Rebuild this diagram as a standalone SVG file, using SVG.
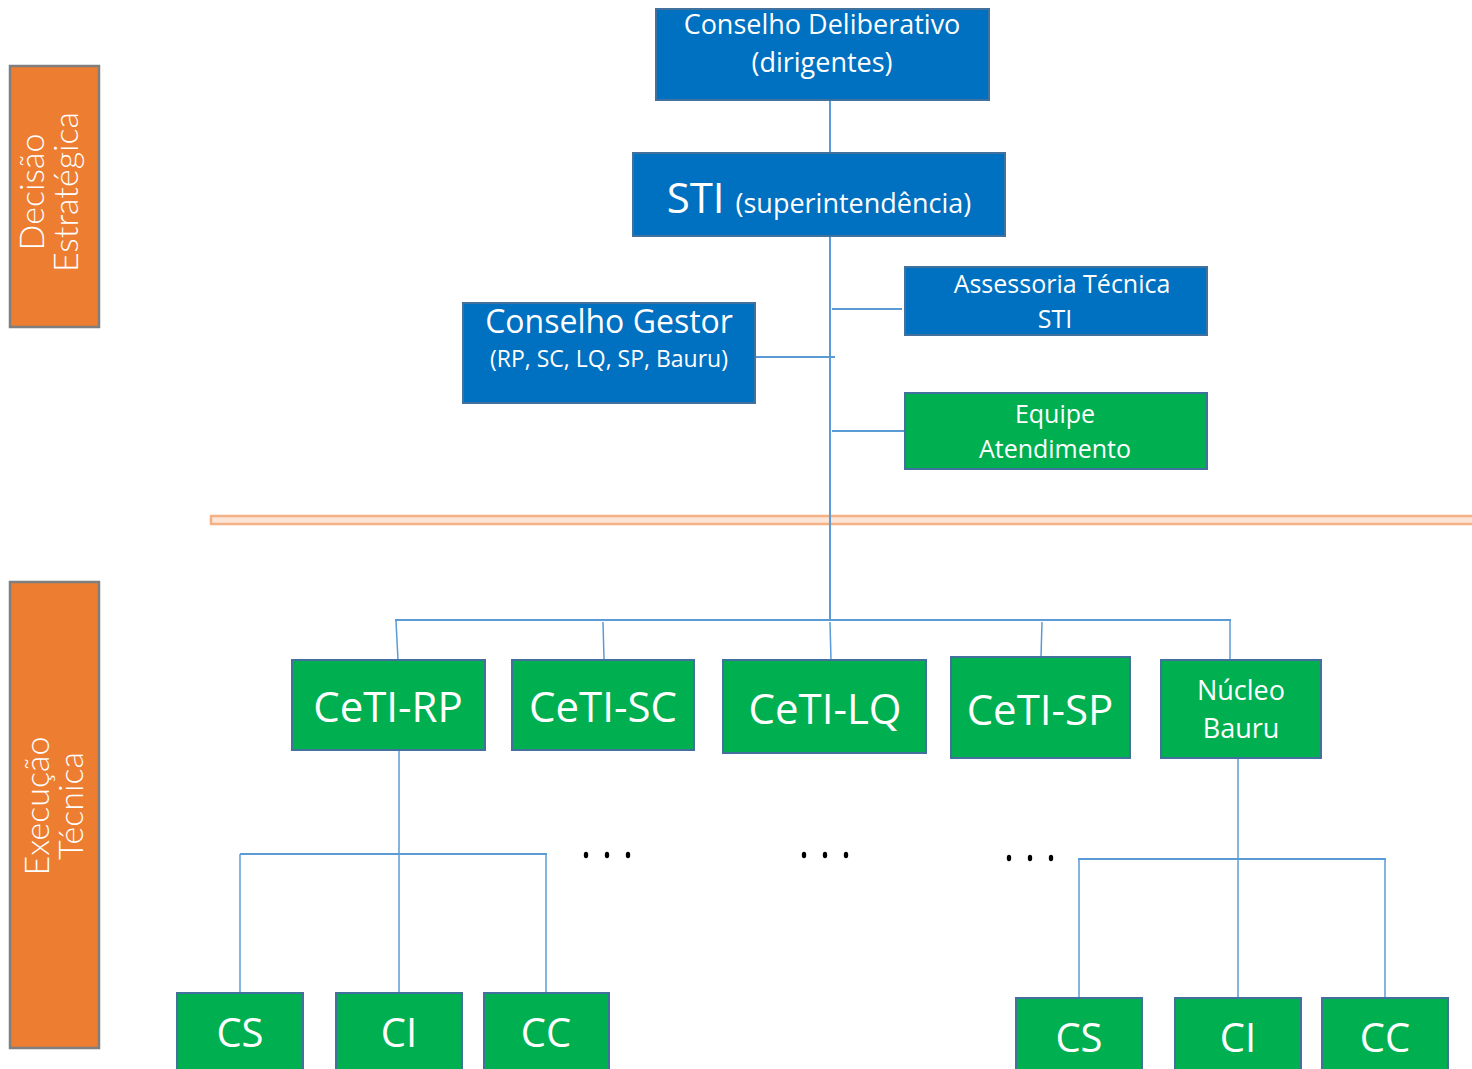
<svg xmlns="http://www.w3.org/2000/svg" width="1472" height="1069" viewBox="0 0 1472 1069">
<style>
.side{fill:#ED7D31;stroke:#7F7F7F;stroke-width:2.5}
.sidet{fill:#fff;font-family:Lato,"DejaVu Sans",sans-serif;font-weight:300;font-size:34px}
.blue{fill:#0070C0;stroke:#41719C;stroke-width:2}
.green{fill:#00B050;stroke:#41719C;stroke-width:2}
.t{fill:#fff;font-family:"Open Sans","Noto Sans",sans-serif;text-anchor:middle}
.c{stroke:#5B9BD5;stroke-width:2;fill:none}
.c1{stroke:#5B9BD5;stroke-width:1.5;fill:none}
.dots{fill:#000}
</style>
<rect x="0" y="0" width="1472" height="1069" fill="#fff"/>
<g id="band-decisao">
<rect class="side" x="10" y="66" width="89" height="261"/>
<text class="sidet" transform="translate(44,192) rotate(-90)" text-anchor="middle">Decisão</text>
<text class="sidet" transform="translate(78,192) rotate(-90)" text-anchor="middle">Estratégica</text>
</g>
<g id="band-execucao">
<rect class="side" x="10" y="582" width="89" height="466"/>
<text class="sidet" transform="translate(49,806) rotate(-90)" text-anchor="middle">Execução</text>
<text class="sidet" transform="translate(83,806) rotate(-90)" text-anchor="middle">Técnica</text>
</g>
<g id="divider">
<rect x="211" y="516" width="1265" height="8" fill="#FBE5D6" stroke="#F4B183" stroke-width="2.5"/>
</g>
<g id="connectors">
<line class="c" x1="830" y1="100" x2="830" y2="160"/>
<line class="c" x1="830" y1="236" x2="830" y2="620"/>
<line class="c" x1="832" y1="309" x2="902" y2="309"/>
<line class="c" x1="748" y1="357" x2="835" y2="357"/>
<line class="c" x1="832" y1="431" x2="905" y2="431"/>
<line class="c" x1="395" y1="620" x2="1231" y2="620" stroke-width="2.5"/>
<line class="c1" x1="396" y1="621" x2="398" y2="660"/>
<line class="c1" x1="603" y1="622" x2="604" y2="659"/>
<line class="c1" x1="830" y1="622" x2="831" y2="660"/>
<line class="c1" x1="1042" y1="622" x2="1041" y2="657"/>
<line class="c1" x1="1230" y1="620" x2="1230" y2="690"/>
<line class="c1" x1="399" y1="750" x2="399" y2="993"/>
<line class="c" x1="240" y1="854" x2="547" y2="854" stroke-width="2.5"/>
<line class="c1" x1="240" y1="854" x2="240" y2="993"/>
<line class="c1" x1="546" y1="854" x2="546" y2="993"/>
<line class="c1" x1="1238" y1="758" x2="1238" y2="998"/>
<line class="c" x1="1078" y1="859" x2="1386" y2="859" stroke-width="2.5"/>
<line class="c1" x1="1079" y1="859" x2="1079" y2="998"/>
<line class="c1" x1="1385" y1="859" x2="1385" y2="998"/>
</g>
<g id="conselho-deliberativo">
<rect class="blue" x="656" y="9" width="333" height="91"/>
<text class="t" x="822" y="34" font-size="27">Conselho Deliberativo</text>
<text class="t" x="822" y="72" font-size="27">(dirigentes)</text>
</g>
<g id="sti">
<rect class="blue" x="633" y="153" width="372" height="83"/>
<text class="t" x="819" y="213"><tspan font-size="42">STI </tspan><tspan font-size="27">(superintendência)</tspan></text>
</g>
<g id="assessoria">
<rect class="blue" x="905" y="267" width="302" height="68"/>
<text class="t" x="1062" y="293" font-size="25">Assessoria Técnica</text>
<text class="t" x="1055" y="328" font-size="25">STI</text>
</g>
<g id="conselho-gestor">
<rect class="blue" x="463" y="303" width="292" height="100"/>
<text class="t" x="609" y="333" font-size="32">Conselho Gestor</text>
<text class="t" x="609" y="367" font-size="23">(RP, SC, LQ, SP, Bauru)</text>
</g>
<g id="equipe">
<rect class="green" x="905" y="393" width="302" height="76"/>
<text class="t" x="1055" y="423" font-size="25">Equipe</text>
<text class="t" x="1055" y="458" font-size="25">Atendimento</text>
</g>
<g id="ceti-rp">
<rect class="green" x="292" y="660" width="193" height="90"/>
<text class="t" x="388" y="722" font-size="42">CeTI-RP</text>
</g>
<g id="ceti-sc">
<rect class="green" x="512" y="660" width="182" height="90"/>
<text class="t" x="603" y="722" font-size="42">CeTI-SC</text>
</g>
<g id="ceti-lq">
<rect class="green" x="723" y="660" width="203" height="93"/>
<text class="t" x="825" y="724" font-size="42">CeTI-LQ</text>
</g>
<g id="ceti-sp">
<rect class="green" x="951" y="657" width="179" height="101"/>
<text class="t" x="1040" y="725" font-size="42">CeTI-SP</text>
</g>
<g id="nucleo-bauru">
<rect class="green" x="1161" y="660" width="160" height="98"/>
<text class="t" x="1241" y="700" font-size="27">Núcleo</text>
<text class="t" x="1241" y="738" font-size="27">Bauru</text>
</g>
<g id="rp-cs"><rect class="green" x="177" y="993" width="126" height="80"/><text class="t" x="240" y="1047" font-size="40">CS</text></g>
<g id="rp-ci"><rect class="green" x="336" y="993" width="126" height="80"/><text class="t" x="399" y="1047" font-size="40">CI</text></g>
<g id="rp-cc"><rect class="green" x="484" y="993" width="125" height="80"/><text class="t" x="546" y="1047" font-size="40">CC</text></g>
<g id="b-cs"><rect class="green" x="1016" y="998" width="126" height="80"/><text class="t" x="1079" y="1052" font-size="40">CS</text></g>
<g id="b-ci"><rect class="green" x="1175" y="998" width="126" height="80"/><text class="t" x="1238" y="1052" font-size="40">CI</text></g>
<g id="b-cc"><rect class="green" x="1322" y="998" width="126" height="80"/><text class="t" x="1385" y="1052" font-size="40">CC</text></g>
<g id="ellipses" class="dots">
<ellipse cx="586" cy="855" rx="2.2" ry="3.2"/><ellipse cx="607" cy="855" rx="2.2" ry="3.2"/><ellipse cx="628" cy="855" rx="2.2" ry="3.2"/>
<ellipse cx="804" cy="855" rx="2.2" ry="3.2"/><ellipse cx="825" cy="855" rx="2.2" ry="3.2"/><ellipse cx="846" cy="855" rx="2.2" ry="3.2"/>
<ellipse cx="1009" cy="858" rx="2.2" ry="3.2"/><ellipse cx="1030" cy="858" rx="2.2" ry="3.2"/><ellipse cx="1051" cy="858" rx="2.2" ry="3.2"/>
</g>
</svg>
